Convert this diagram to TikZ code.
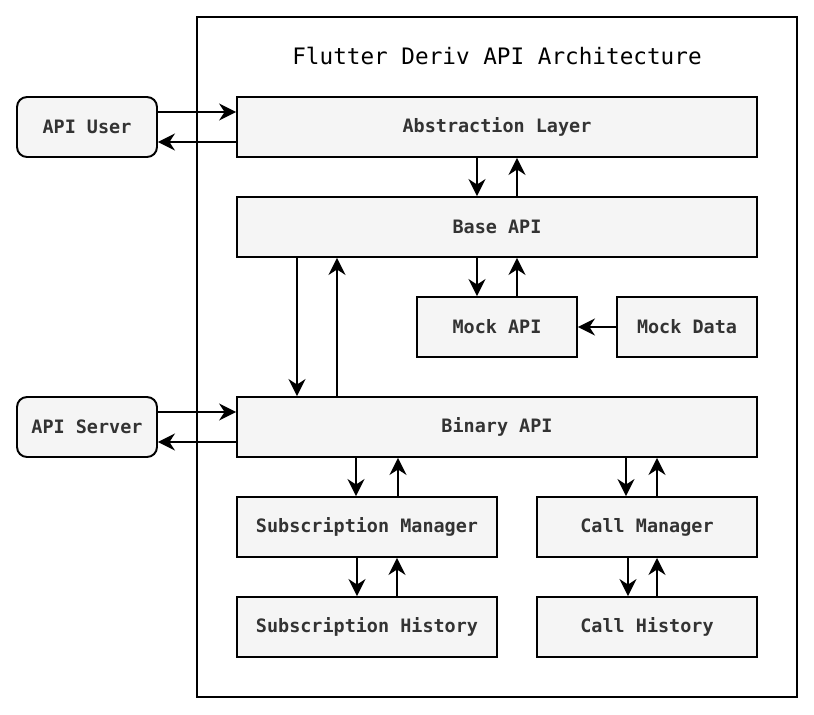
\documentclass[tikz,border=0pt]{standalone}
\usepackage{fontspec}
\setmonofont{DejaVu Sans Mono}
\usetikzlibrary{arrows.meta}

\definecolor{boxfill}{HTML}{F5F5F5}
\definecolor{boxtext}{HTML}{333333}

\tikzset{
  block/.style={draw, line width=1.1pt, fill=boxfill, text=boxtext,
    font=\ttfamily\bfseries\fontsize{10.5}{12}\selectfont,
    minimum height=1.2cm, inner sep=0pt},
  actor/.style={block, rounded corners=0.2cm},
  link/.style={line width=1.1pt, -{Stealth[length=3.4mm, width=3.4mm, inset=1.1mm]}}
}

\begin{document}
\begin{tikzpicture}[x=0.02cm, y=-0.02cm]
          \useasboundingbox (0, 0) rectangle (814, 714);

          \draw[line width=1.1pt] (197, 17) rectangle (797, 697);
          \node[font=\ttfamily\fontsize{12.9}{15}\selectfont] (title) at (497, 56) {Flutter Deriv API Architecture};

          \node[actor, minimum width=2.8cm] (user) at (87, 127) {API User};
          \node[actor, minimum width=2.8cm] (server) at (87, 427) {API Server};

          \node[block, minimum width=10.4cm] (abstraction) at (497, 127) {Abstraction Layer};
          \node[block, minimum width=10.4cm] (base) at (497, 227) {Base API};
          \node[block, minimum width=3.2cm] (mockapi) at (497, 327) {Mock API};
          \node[block, minimum width=2.8cm] (mockdata) at (687, 327) {Mock Data};
          \node[block, minimum width=10.4cm] (binary) at (497, 427) {Binary API};
          \node[block, minimum width=5.2cm] (submanager) at (367, 527) {Subscription Manager};
          \node[block, minimum width=4.4cm] (callmanager) at (647, 527) {Call Manager};
          \node[block, minimum width=5.2cm] (subhistory) at (367, 627) {Subscription History};
          \node[block, minimum width=4.4cm] (callhistory) at (647, 627) {Call History};

          % user and server
          \draw[link] (user.east |- 0, 112) -- (abstraction.west |- 0, 112);
          \draw[link] (abstraction.west |- 0, 142) -- (user.east |- 0, 142);
          \draw[link] (server.east |- 0, 412) -- (binary.west |- 0, 412);
          \draw[link] (binary.west |- 0, 442) -- (server.east |- 0, 442);

          % api layers
          \draw[link] (abstraction.south -| 477, 0) -- (base.north -| 477, 0);
          \draw[link] (base.north -| 517, 0) -- (abstraction.south -| 517, 0);
          \draw[link] (base.south -| 477, 0) -- (mockapi.north -| 477, 0);
          \draw[link] (mockapi.north -| 517, 0) -- (base.south -| 517, 0);
          \draw[link] (mockdata.west) -- (mockapi.east);
          \draw[link] (base.south -| 297, 0) -- (binary.north -| 297, 0);
          \draw[link] (binary.north -| 337, 0) -- (base.south -| 337, 0);

          % managers
          \draw[link] (binary.south -| 356, 0) -- (submanager.north -| 356, 0);
          \draw[link] (submanager.north -| 398, 0) -- (binary.south -| 398, 0);
          \draw[link] (submanager.south -| 357, 0) -- (subhistory.north -| 357, 0);
          \draw[link] (subhistory.north -| 397, 0) -- (submanager.south -| 397, 0);
          \draw[link] (binary.south -| 626, 0) -- (callmanager.north -| 626, 0);
          \draw[link] (callmanager.north -| 657, 0) -- (binary.south -| 657, 0);
          \draw[link] (callmanager.south -| 628, 0) -- (callhistory.north -| 628, 0);
          \draw[link] (callhistory.north -| 657, 0) -- (callmanager.south -| 657, 0);
        \end{tikzpicture}
\end{document}
